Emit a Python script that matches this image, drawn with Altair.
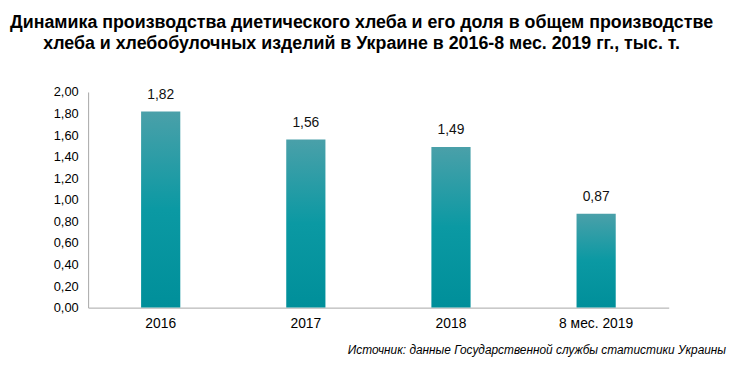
import altair as alt
import pandas as pd

categories = ["2016", "2017", "2018", "8 мес. 2019"]
values = [1.82, 1.56, 1.49, 0.87]
y_ticks = [0, 0.2, 0.4, 0.6, 0.8, 1.0, 1.2, 1.4, 1.6, 1.8, 2.0]

df = pd.DataFrame({"cat": categories, "val": values})

FONT = "Liberation Sans"

xenc = alt.X("cat:N", sort=categories, title=None,
             scale=alt.Scale(paddingInner=0.73, paddingOuter=0.365),
             axis=alt.Axis(labelAngle=0, ticks=False, domainColor="#a6a6a6",
                           labelFont=FONT, labelFontSize=14, labelColor="#000000",
                           labelPadding=9, grid=False))

yenc = alt.Y("val:Q", title=None,
             scale=alt.Scale(domain=[0, 2], nice=False),
             axis=alt.Axis(values=y_ticks, ticks=False, grid=False,
                           domainColor="#a6a6a6", labelOverlap=False,
                           labelExpr="replace(format(datum.value, '.2f'), '.', ',')",
                           labelFont=FONT, labelFontSize=13, labelColor="#000000",
                           labelPadding=10))

bars = alt.Chart(df).mark_bar(
    color=alt.Gradient(
        gradient="linear", x1=0, x2=0, y1=0, y2=1,
        stops=[alt.GradientStop(color="#4aa0a9", offset=0),
               alt.GradientStop(color="#0b99a3", offset=0.5),
               alt.GradientStop(color="#008f9a", offset=1)]
    )
).encode(x=xenc, y=yenc)

labels = alt.Chart(df).mark_text(
    baseline="bottom", dy=-10, font=FONT, fontSize=14, color="#111111"
).transform_calculate(
    lab="replace(format(datum.val, '.2f'), '.', ',')"
).encode(x=xenc, y=yenc, text="lab:N")

source = alt.Chart(pd.DataFrame({"t": ["Источник: данные Государственной службы статистики Украины"]})).mark_text(
    align="right", baseline="alphabetic", font=FONT, fontSize=12, fontStyle="italic", color="#000000"
).encode(x=alt.value(645), y=alt.value(265), text="t:N")

chart = alt.layer(bars, labels, source).properties(
    width=587, height=218,
    background="white",
    autosize=alt.AutoSizeParams(type="none"),
    padding={"left": 81, "top": 83, "right": 65, "bottom": 48},
    title=alt.TitleParams(
        text=["Динамика производства диетического хлеба и его доля в общем производстве",
              "хлеба и хлебобулочных изделий в Украине в 2016-8 мес. 2019 гг., тыс. т."],
        anchor="middle", font=FONT, fontSize=18, fontWeight="bold", color="#000000",
        lineHeight=22, offset=33, dx=-17
    )
).configure_view(stroke="transparent", strokeWidth=0).configure_axis(
    labelOverlap=False, grid=False
)

chart.save("out.html", embed_options={"renderer": "svg", "actions": False})
